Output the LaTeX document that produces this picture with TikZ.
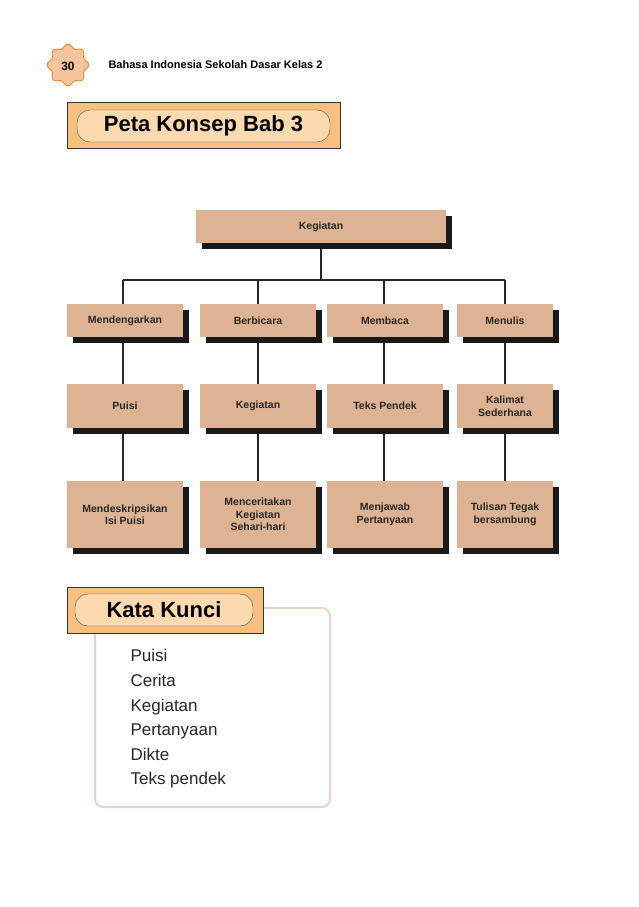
\documentclass[tikz,border=0pt]{standalone}
\usepackage{fontspec}
\setmainfont{Liberation Sans}
\begin{document}
\begin{tikzpicture}[x=1pt,y=-1pt,
  bx/.style={fill=boxc, draw=none, minimum height=#1, inner sep=1pt, align=center, font=\bfseries\fontsize{10.5}{12.5}\selectfont, text=black!85},
  shd/.style={fill=black!90},
  ln/.style={line width=2pt, black!85}]
\definecolor{boxc}{HTML}{DEB394}
\definecolor{orng}{HTML}{F8C07E}
\definecolor{pill}{HTML}{FCD9AE}
\definecolor{flow}{HTML}{F6C59C}
\definecolor{tan}{HTML}{EAD3C2}
\useasboundingbox[fill=white] (0,0) rectangle (638,907);
% header badge
\path[fill=flow, draw=orange!70!brown, line width=0.8pt]
  plot[smooth cycle, samples=40, domain=0:351] ({68+(19+2*cos(8*\x))*cos(\x)}, {65+(19+2*cos(8*\x))*sin(\x)});
\node[font=\bfseries\fontsize{12}{12}\selectfont\rmfamily] (pg) at (68,66) {30};
\node[anchor=west, font=\bfseries\fontsize{11}{13}\selectfont] (hd) at (105,65) {Bahasa Indonesia Sekolah Dasar Kelas 2};
% title
\draw[fill=orng, draw=black!80, line width=1pt] (67,102) rectangle (340,148);
\node[fill=pill, draw=black!70, rounded corners=13pt, minimum width=253pt, minimum height=32pt, font=\bfseries\fontsize{22}{24}\selectfont] (title) at (203.5,126) {Peta Konsep Bab 3};
% boxes with shadow
\newcommand{\bbox}[6]{% name, x1, y1, x2, y2, text
  \fill[shd] (#2+6,#3+6) rectangle (#4+6,#5+6);
  \node[bx=#5-#3, minimum width=#4-#2] (#1) at ({(#2+#4)/2},{(#3+#5)/2}) {#6};}
\bbox{top}{196}{210}{446}{243}{Kegiatan}
\draw[ln] (321,249) -- (321,280);
\draw[ln] (123,280) -- (505,280);
\foreach \x in {123,258,384,505} {\draw[ln] (\x,280) -- (\x,304); \draw[ln] (\x,337) -- (\x,384); \draw[ln] (\x,428) -- (\x,481);}
\bbox{a1}{67}{304}{183}{337}{Mendengarkan}
\bbox{b1}{200}{304}{316}{337}{Berbicara}
\bbox{c1}{327}{304}{443}{337}{Membaca}
\bbox{d1}{457}{304}{553}{337}{Menulis}
\bbox{a2}{67}{384}{183}{428}{Puisi}
\bbox{b2}{200}{384}{316}{428}{Kegiatan}
\bbox{c2}{327}{384}{443}{428}{Teks Pendek}
\bbox{d2}{457}{384}{553}{428}{Kalimat\\Sederhana}
\bbox{a3}{67}{481}{183}{548}{Mendeskripsikan\\Isi Puisi}
\bbox{b3}{200}{481}{316}{548}{Menceritakan\\Kegiatan\\Sehari-hari}
\bbox{c3}{327}{481}{443}{548}{Menjawab\\Pertanyaan}
\bbox{d3}{457}{481}{553}{548}{Tulisan Tegak\\bersambung}
% kata kunci
\draw[tan, line width=2pt, rounded corners=8pt] (95,608) rectangle (330,807);
\draw[fill=orng, draw=black!80, line width=1pt] (67,587) rectangle (263,633);
\node[fill=pill, draw=black!70, rounded corners=13pt, minimum width=178pt, minimum height=32pt, font=\bfseries\fontsize{22}{24}\selectfont] (kk) at (164,610) {Kata Kunci};
\node[anchor=north west, align=left, font=\fontsize{17}{24.6}\selectfont, text=black!85] (words) at (127,646) {Puisi\\Cerita\\Kegiatan\\Pertanyaan\\Dikte\\Teks pendek};
\end{tikzpicture}
\end{document}
